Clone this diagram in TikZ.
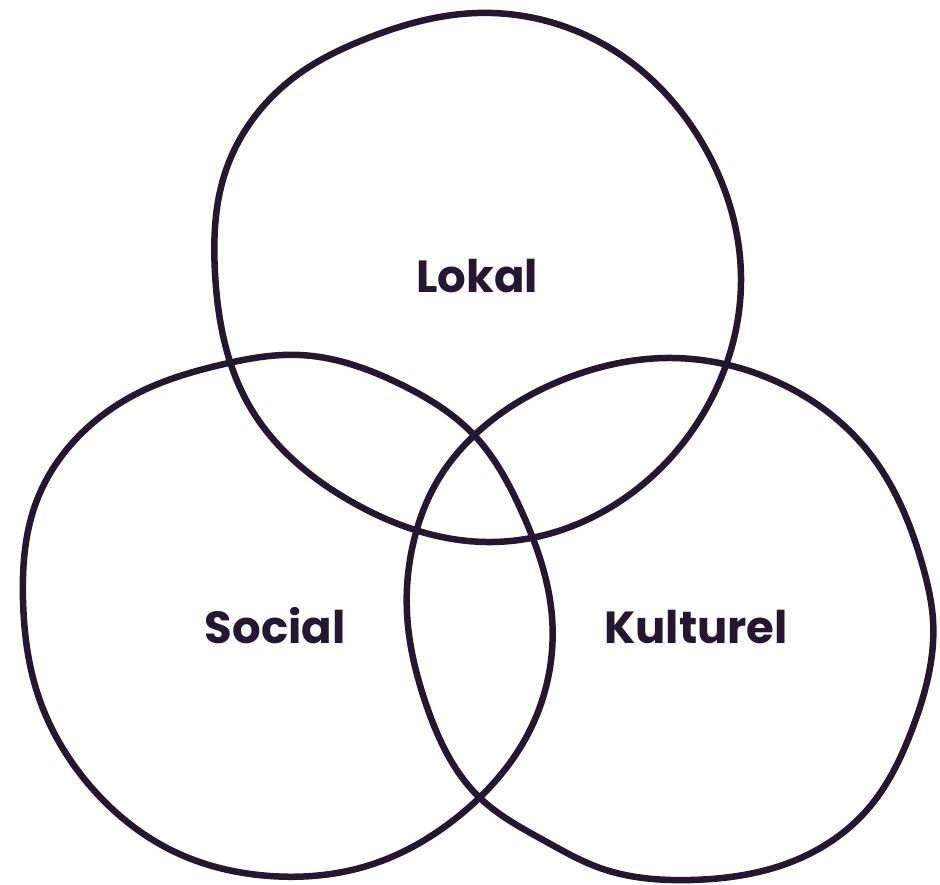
\documentclass[tikz,border=0pt]{standalone}
\usepackage{fontspec}
\usetikzlibrary{hobby}
\newfontfamily\popfont{Poppins}
\definecolor{ink}{RGB}{35,24,48}
\begin{document}
\begin{tikzpicture}[x=1pt,y=-1pt,
  blob/.style={draw=ink,line width=6.5pt,line join=round},
  lab/.style={text=ink,font=\popfont\bfseries\fontsize{45}{50}\selectfont,anchor=base,inner sep=0pt}]
\useasboundingbox (0,0) rectangle (940,884);
% top circle
\draw[blob] plot[closed hobby] coordinates {
 (477,13) (610,48) (704,146) (741,277) (707,407) (611,507) (492,542) (352,502)
 (250,407) (215,273) (225,173) (300,73) (363,40)};
% left circle
\draw[blob] plot[closed hobby] coordinates {
 (300,355) (400,384) (474,435) (521,510) (552,617) (530,730) (460,815) (370,865)
 (270,876) (175,852) (91,787) (38,695) (23,600) (37,500) (75,440) (140,392)
 (220,365)};
% right circle
\draw[blob] plot[closed hobby] coordinates {
 (673,358) (773,380) (867,450) (923,567) (933,620) (913,727) (867,810) (796,860)
 (690,880) (600,868) (545,841) (480,798) (427,707) (407,613) (414,540) (438,480)
 (480,430) (570,377)};
\node[lab] (lokal) at (477,292) {Lokal};
\node[lab] (social) at (275,643) {Social};
\node[lab] (kulturel) at (696,643) {Kulturel};
\end{tikzpicture}
\end{document}
